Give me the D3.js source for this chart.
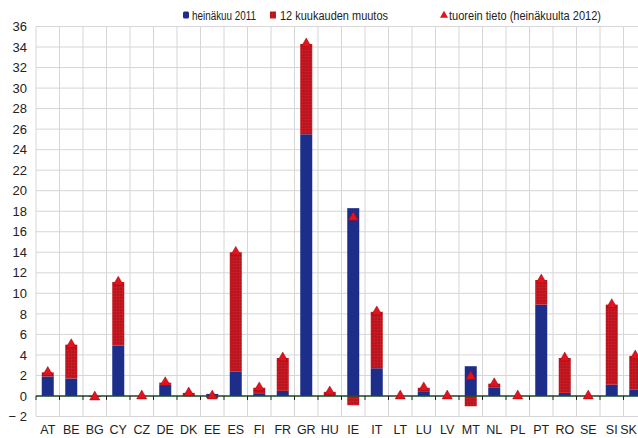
<!DOCTYPE html>
<html><head><meta charset="utf-8">
<script src="https://cdn.jsdelivr.net/npm/d3@7"></script>
<style>body{margin:0;background:#fff}svg{display:block}text{font-family:"Liberation Sans",Arial,sans-serif}</style>
</head><body><svg id="c" width="638" height="438"></svg>
<script>
const categories = ["AT","BE","BG","CY","CZ","DE","DK","EE","ES","FI","FR","GR","HU","IE","IT","LT","LU","LV","MT","NL","PL","PT","RO","SE","SI","SK"];
const july2011 = [1.9,1.7,0,4.9,0,1.1,0.1,0.2,2.4,0.2,0.5,25.5,0,18.3,2.7,0,0.4,0,2.9,0.8,0,8.9,0.3,0,1.1,0.6];
const latest2012 = [2.3,5.0,-0.1,11.1,0,1.3,0.3,0.0,14.0,0.8,3.7,34.3,0.4,17.4,8.2,0,0.8,0,1.9,1.2,0,11.3,3.7,0,8.9,3.9];
const change12m = latest2012.map((v,i)=>+(v-july2011[i]).toFixed(2));
const yTicks = [-2,0,2,4,6,8,10,12,14,16,18,20,22,24,26,28,30,32,34,36];
const legendLabels = ["heinäkuu 2011","12 kuukauden muutos","tuorein tieto (heinäkuulta 2012)"];

(function(){
const svg = d3.select("#c");
const pL = 36, pT = 26.5, pB = 416.5;
const x = d3.scaleBand().domain(categories).range([pL, pL + 23.5*26]).paddingInner(0).paddingOuter(0);
const y = d3.scaleLinear().domain([-2,36]).range([pB, pT]);

const defs = svg.append("defs");
const pat = defs.append("pattern").attr("id","redp").attr("patternUnits","userSpaceOnUse").attr("width",3).attr("height",3);
pat.append("rect").attr("width",3).attr("height",3).attr("fill","#cc1820");
pat.append("circle").attr("cx",1).attr("cy",1).attr("r",0.7).attr("fill","#7c1020");

// grid
svg.append("g").selectAll("line").data(yTicks).join("line")
  .attr("x1",pL).attr("x2",638).attr("y1",d=>y(d)).attr("y2",d=>y(d))
  .attr("stroke","#d6d6d6").attr("stroke-width",1);
const bounds = categories.map(c=>x(c)).concat([x(categories[25])+x.bandwidth()]);
svg.append("g").selectAll("line").data(bounds).join("line")
  .attr("x1",d=>d).attr("x2",d=>d).attr("y1",pT).attr("y2",pB)
  .attr("stroke","#d6d6d6").attr("stroke-width",1);

// y axis labels
const yAxis = d3.axisLeft(y).tickValues(yTicks).tickSize(0).tickPadding(9).tickFormat(d=> d<0 ? "− "+Math.abs(d) : d);
const ya = svg.append("g").attr("transform",`translate(${pL},0)`).call(yAxis);
ya.select(".domain").remove();
ya.selectAll("text").attr("font-size",13).attr("fill","#222").attr("font-family",null);

const bw = 12;
const cx = c => x(c) + x.bandwidth()/2;

// blue bars
svg.append("g").selectAll("rect").data(categories).join("rect")
  .attr("x",c=>cx(c)-bw/2).attr("width",bw)
  .attr("y",(c,i)=>y(Math.max(0,july2011[i])))
  .attr("height",(c,i)=>Math.abs(y(0)-y(july2011[i])))
  .attr("fill","#1c2d8a");

// red change bars
svg.append("g").selectAll("rect").data(categories).join("rect")
  .attr("x",c=>cx(c)-bw/2).attr("width",bw)
  .attr("y",(c,i)=> change12m[i]>=0 ? y(july2011[i]+change12m[i]) : y(0))
  .attr("height",(c,i)=>Math.abs(y(0)-y(change12m[i])))
  .attr("fill","url(#redp)");

// zero line + ticks
svg.append("line").attr("x1",pL).attr("x2",638).attr("y1",y(0)).attr("y2",y(0)).attr("stroke","#1d4d24").attr("stroke-width",1.6);
svg.append("g").selectAll("line").data(bounds).join("line")
  .attr("x1",d=>d).attr("x2",d=>d).attr("y1",y(0)).attr("y2",y(0)+4)
  .attr("stroke","#222").attr("stroke-width",1);

// markers
const tri = d3.symbol().type(d3.symbolTriangle).size(45);
svg.append("g").selectAll("path").data(categories).join("path")
  .attr("d",tri).attr("transform",(c,i)=>`translate(${cx(c)},${y(latest2012[i])})`)
  .attr("fill","#e3121c").attr("stroke","#8a0d14").attr("stroke-width",0.5);

// x labels (last one nudged in so it stays inside the window)
svg.append("g").selectAll("text").data(categories).join("text")
  .attr("x",c=>Math.min(cx(c), 628.5)).attr("y",434)
  .attr("text-anchor","middle")
  .attr("font-size",12.5).attr("fill","#222").text(c=>c);

// legend
const lg = svg.append("g").attr("font-size",12).attr("fill","#222");
lg.append("rect").attr("x",183).attr("y",11.5).attr("width",6).attr("height",7).attr("rx",1.5).attr("fill","#1c2d8a");
lg.append("text").attr("x",192).attr("y",19.5).attr("textLength",64).attr("lengthAdjust","spacingAndGlyphs").text(legendLabels[0]);
lg.append("rect").attr("x",270).attr("y",11.5).attr("width",6).attr("height",7).attr("fill","url(#redp)");
lg.append("text").attr("x",280).attr("y",19.5).attr("textLength",108).attr("lengthAdjust","spacingAndGlyphs").text(legendLabels[1]);
lg.append("path").attr("d",d3.symbol().type(d3.symbolTriangle).size(28)).attr("transform","translate(444,15.5)").attr("fill","#e3121c");
lg.append("text").attr("x",449).attr("y",19.5).attr("textLength",152).attr("lengthAdjust","spacingAndGlyphs").text(legendLabels[2]);
})();
</script></body></html>
